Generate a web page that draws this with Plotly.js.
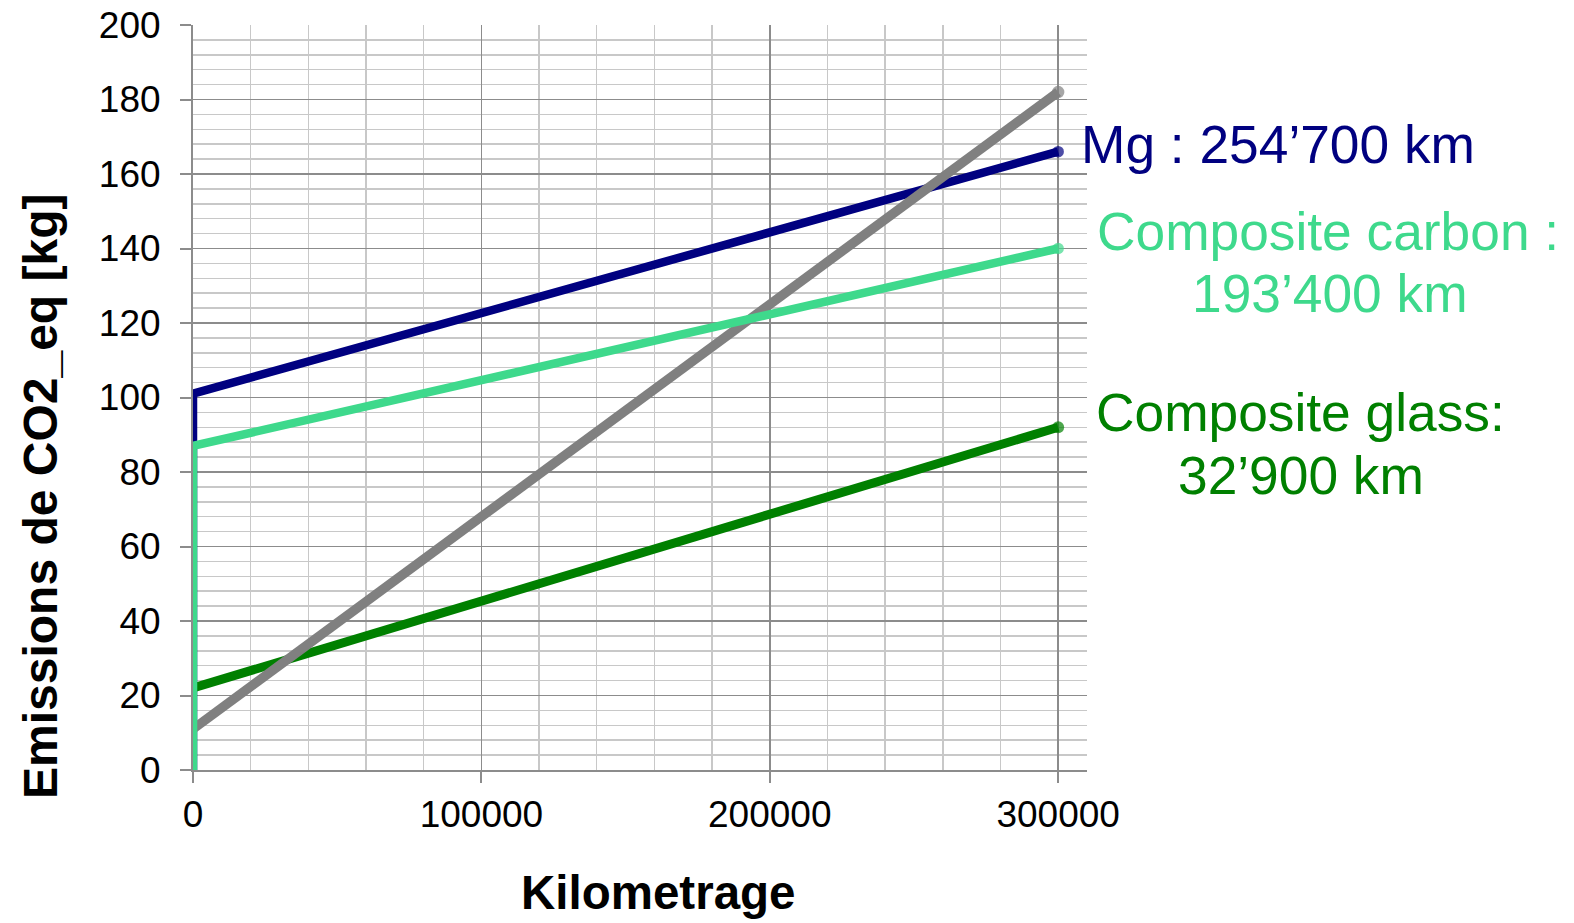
<!DOCTYPE html>
<html>
<head>
<meta charset="utf-8">
<script src="https://cdn.plot.ly/plotly-3.0.1.min.js"></script>
<style>
  html, body { margin: 0; padding: 0; background: #ffffff; }
  #chart { width: 1574px; height: 923px; }
</style>
</head>
<body>
<div id="chart"></div>
<script>
// Cumulative CO2-equivalent emissions versus distance driven, per material
var mgKm = [0, 0, 300000];
var mgCo2 = [0, 101, 166];

var steelKm = [0, 300000];
var steelCo2 = [11, 182];

var glassKm = [0, 300000];
var glassCo2 = [22, 92];

var carbonKm = [0, 0, 300000];
var carbonCo2 = [0, 87, 140];

// Break-even labels
var labelMg = ["Mg : 254’700 km"];
var labelCarbon = ["Composite carbon :", "193’400 km"];
var labelGlass = ["Composite glass:", "32’900 km"];

var xTickVals = [0, 100000, 200000, 300000];
var xTickText = ["0", "100000", "200000", "300000"];
var yTickVals = [0, 20, 40, 60, 80, 100, 120, 140, 160, 180, 200];

var navy = "#000080";
var steelGrey = "#808080";
var darkGreen = "#008000";
var mint = "#3ED98C";

// plot area in pixels
var L = 193, R = 1087, T = 25, B = 770;
function px(x) { return (x - L) / (R - L); }
function py(y) { return (B - y) / (B - T); }

function lineTrace(xs, ys, color, width, name) {
  var n = xs.length;
  var sizes = xs.map(function (_, i) { return i === n - 1 ? width + 3 : 0; });
  return {
    type: "scatter",
    mode: "lines+markers",
    x: xs,
    y: ys,
    name: name,
    line: { color: color, width: width },
    marker: { color: color, size: sizes, line: { width: 0 } },
    cliponaxis: false,
    hoverinfo: "x+y+name"
  };
}

var traces = [
  lineTrace(mgKm, mgCo2, navy, 8.5, "Mg"),
  lineTrace(glassKm, glassCo2, darkGreen, 9, "Composite glass"),
  lineTrace(steelKm, steelCo2, steelGrey, 9.5, "Steel"),
  lineTrace(carbonKm, carbonCo2, mint, 8.5, "Composite carbon")
];

var labelFont = "Liberation Sans, Arial, sans-serif";
function textAnn(text, xPix, yPix, color, size, bold) {
  return {
    xref: "paper", yref: "paper",
    x: px(xPix), y: py(yPix),
    xanchor: "center", yanchor: "middle",
    text: bold ? "<b>" + text + "</b>" : text,
    showarrow: false,
    font: { family: labelFont, size: size, color: color }
  };
}

var annotations = [
  textAnn(labelMg[0], 1278, 144, navy, 53.3),
  textAnn(labelCarbon[0], 1328, 231, mint, 53.3),
  textAnn(labelCarbon[1], 1330, 294, mint, 53.3),
  textAnn(labelGlass[0], 1300, 412, darkGreen, 53.3),
  textAnn(labelGlass[1], 1301, 475, darkGreen, 53.3),
  textAnn("Kilometrage", 658, 893, "#000000", 47.5, true),
  {
    xref: "paper", yref: "paper",
    x: px(41), y: py(496),
    xanchor: "center", yanchor: "middle",
    text: "<b>Emissions de CO2_eq [kg]</b>",
    textangle: -90,
    showarrow: false,
    font: { family: labelFont, size: 48, color: "#000000" }
  }
];

var layout = {
  width: 1574,
  height: 923,
  margin: { l: L, r: 1574 - R, t: T, b: 923 - B, pad: 0 },
  paper_bgcolor: "#ffffff",
  plot_bgcolor: "#ffffff",
  showlegend: false,
  font: { family: labelFont, size: 37, color: "#000000" },
  xaxis: {
    range: [0, 310000],
    tickmode: "array",
    tickvals: xTickVals,
    ticktext: xTickText,
    ticks: "outside",
    ticklen: 11,
    tickwidth: 2,
    tickcolor: "#8c8c8c",
    showline: true,
    linecolor: "#8c8c8c",
    linewidth: 2,
    showgrid: true,
    gridcolor: "#8c8c8c",
    gridwidth: 1.5,
    zeroline: false,
    tickfont: { size: 37, color: "#000000" },
    ticklabelstandoff: 0,
    minor: { dtick: 20000, tick0: 0, showgrid: true, gridcolor: "#c8c8c8", gridwidth: 1.5, ticks: "" },
    fixedrange: true
  },
  yaxis: {
    range: [0, 200],
    tickmode: "array",
    tickvals: yTickVals,
    ticks: "outside",
    ticklen: 11,
    tickwidth: 2,
    tickcolor: "#8c8c8c",
    showline: true,
    linecolor: "#8c8c8c",
    linewidth: 2,
    showgrid: true,
    gridcolor: "#8c8c8c",
    gridwidth: 1.5,
    zeroline: false,
    tickfont: { size: 37, color: "#000000" },
    ticklabelstandoff: 12,
    minor: { dtick: 4, tick0: 0, showgrid: true, gridcolor: "#c8c8c8", gridwidth: 1.5, ticks: "" },
    fixedrange: true
  },
  annotations: annotations
};

Plotly.newPlot("chart", traces, layout, { displayModeBar: false, staticPlot: true });
</script>
</body>
</html>
